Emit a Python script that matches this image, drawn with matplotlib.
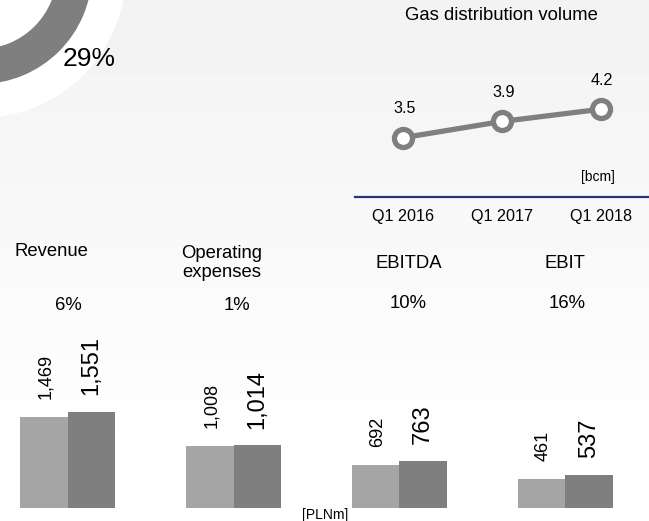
import numpy as np
import matplotlib
matplotlib.use('Agg')
import matplotlib.pyplot as plt
from matplotlib.patches import Circle, Wedge

plt.rcParams['font.family'] = ['Liberation Sans', 'DejaVu Sans']

# data
groups = ['Revenue', 'Operating\nexpenses', 'EBITDA', 'EBIT']
changes = ['6%', '1%', '10%', '16%']
prev = [1469, 1008, 692, 461]
curr = [1551, 1014, 763, 537]

quarters = ['Q1 2016', 'Q1 2017', 'Q1 2018']
volume = [3.5, 3.9, 4.2]

donut_label = '29%'

W, H = 649, 521
fig = plt.figure(figsize=(W/100, H/100), dpi=100)

def px(x, y):
    return x/W, 1 - y/H

# background gradient + donut piece, in pixel coords
bg = fig.add_axes([0, 0, 1, 1])
bg.set_xlim(0, W)
bg.set_ylim(H, 0)
bg.axis('off')
rows = np.arange(H)
shade = 242 + 13*np.clip(rows/470, 0, 1)
img = np.repeat(shade[:, None], 2, axis=1)
bg.imshow(img, cmap='gray', vmin=0, vmax=255, extent=[0, W, H, 0], aspect='auto')
bg.add_patch(Circle((-20, -28), 146, color='white', lw=0))
bg.add_patch(Wedge((-20, -28), 112, 0, 360, width=35, color='#7f7f7f', lw=0))
fig.text(*px(89, 59), donut_label, fontsize=19, ha='center', va='center')

# bar chart
ax = fig.add_axes([0, 13.3/H, 1, 277.7/H])
ax.patch.set_alpha(0)
ax.axis('off')
ax.set_xlim(-0.408, 3.504)
ax.set_ylim(0, 4508)
x = np.arange(len(groups))
bw = 0.285
ax.bar(x - bw/2, prev, bw, color='#a5a5a5', lw=0)
ax.bar(x + bw/2, curr, bw, color='#7f7f7f', lw=0)
for xi, a, b in zip(x, prev, curr):
    ax.annotate(f'{a:,}', (xi - bw/2, a), xytext=(1, 13), textcoords='offset points',
                rotation=90, ha='center', va='bottom', fontsize=13)
    ax.annotate(f'{b:,}', (xi + bw/2, b), xytext=(0, 12), textcoords='offset points',
                rotation=90, ha='center', va='bottom', fontsize=17)

title_pos = [(51, 251), (222, 263), (409, 263), (565, 263)]
pct_pos = [(68, 305), (237, 305), (408, 304), (567, 304)]
for name, (tx, ty) in zip(groups, title_pos):
    fig.text(*px(tx, ty), name, fontsize=13.3, ha='center', va='center',
             linespacing=1.2)
for p, (tx, ty) in zip(changes, pct_pos):
    fig.text(*px(tx, ty), p, fontsize=13.3, ha='center', va='center')
fig.text(*px(325, 515), '[PLNm]', fontsize=10, ha='center', va='center')

# line chart
lx = fig.add_axes([355/W, (H - 197)/H, 294/W, 157/H])
lx.patch.set_alpha(0)
lx.set_xlim(-0.489, 2.490)
lx.set_ylim(2.039, 5.906)
for s in ['top', 'left', 'right']:
    lx.spines[s].set_visible(False)
lx.spines['bottom'].set_color('#27357a')
lx.spines['bottom'].set_linewidth(1.6)
lx.set_yticks([])
xq = np.arange(len(quarters))
lx.set_xticks(xq, quarters, fontsize=11.6)
lx.tick_params(axis='x', length=0, pad=9)
lx.plot(xq, volume, color='#7f7f7f', lw=3.8, marker='o', ms=13,
        mfc='white', mec='#7f7f7f', mew=3.8, solid_capstyle='butt')
for xi, v in zip(xq, volume):
    lx.annotate(f'{v}', (xi, v), xytext=(1, 21), textcoords='offset points',
                ha='center', va='center', fontsize=11.6)
fig.text(*px(501.7, 15.5), 'Gas distribution volume', fontsize=13.3,
         ha='center', va='center')
fig.text(*px(598, 177), '[bcm]', fontsize=10, ha='center', va='center')

fig.savefig('out.png', dpi=100)
